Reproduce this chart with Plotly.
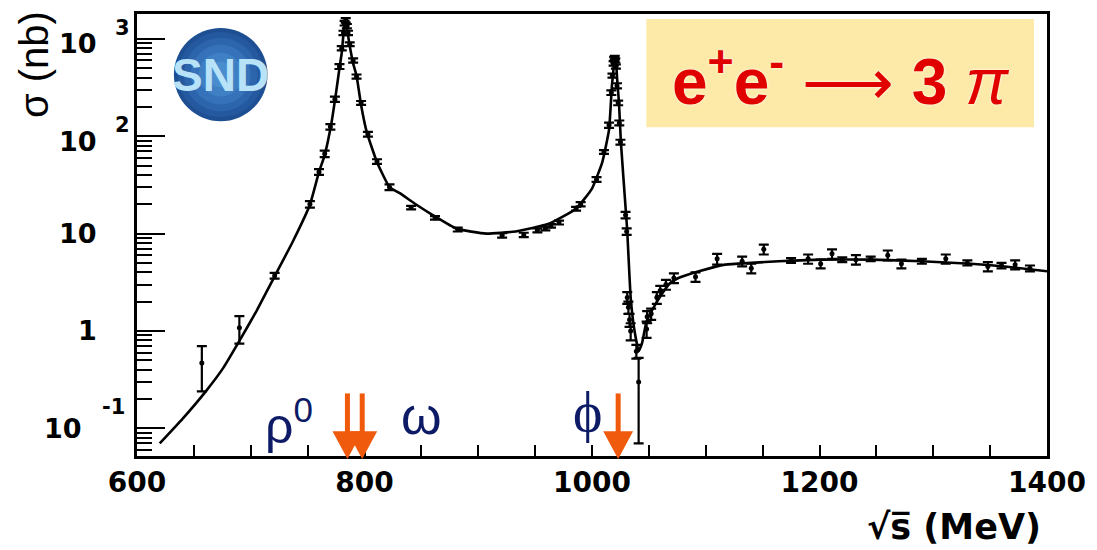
import math
import plotly.graph_objects as go

# ---------------- data ----------------
# fitted curve
curve_E = [620, 640, 661, 676, 690, 705, 721, 737, 752, 760, 765, 771, 775, 778, 780, 782, 783,
           784, 786, 787, 790, 793, 797, 802, 811, 822, 831, 845, 860, 881, 907, 933, 962, 986,
           1000, 1009, 1015, 1017.5, 1019, 1020, 1021, 1022, 1023.7, 1025.4, 1030, 1031,
           1034, 1037, 1041, 1044, 1048, 1056, 1065, 1070, 1076, 1094, 1117, 1140, 1164,
           1202, 1246, 1290, 1333, 1363, 1400]
curve_sigma = [0.070, 0.125, 0.244, 0.42, 0.79, 1.6, 3.64, 8.3, 19.8, 43, 64, 138, 280, 500, 720,
               1300, 1550, 1450, 1000, 850, 560, 417, 209, 110, 54, 30, 26, 20, 15.5, 11.2, 10,
               10.5, 12.6, 18, 29, 54, 117, 330, 500, 650, 620, 400, 222, 87, 15.5, 10.5,
               2.2, 1.07, 0.62, 0.75, 1.26, 1.9, 2.75, 3.2, 3.5, 4.1, 4.8, 5.0, 5.2,
               5.4, 5.4, 5.2, 4.9, 4.6, 4.1]

# measured points
data_E = [657, 690, 721, 752, 760, 765, 770, 774, 778, 780, 781.5, 782.5, 783.5, 784.5, 785.5,
          787, 790, 793, 797, 803, 811, 822,
          841, 862, 882, 921, 940, 952, 959, 964, 971, 986, 990, 1004, 1010.5,
          1015, 1017, 1018, 1019, 1019.5, 1020, 1020.5, 1021, 1022, 1023, 1024, 1025,
          1029.5, 1030.5, 1031, 1032, 1033, 1034, 1039, 1041,
          1048, 1048.5, 1052, 1057, 1060, 1065, 1072, 1091, 1110, 1132, 1140, 1151,
          1175, 1190, 1201, 1211, 1220, 1232, 1245, 1260, 1272, 1290, 1311, 1330,
          1348, 1360, 1372, 1385]
data_sigma = [0.47, 1.08, 3.7, 20, 43, 66, 125, 240, 520, 800, 1150, 1450, 1550, 1350, 1150,
              880, 600, 410, 220, 105, 55, 30,
              18.5, 14.5, 11, 9.6, 9.7, 10.8, 11.3, 12, 13, 18, 20, 36, 69,
              130, 280, 420, 560, 620, 640, 600, 520, 330, 220, 137, 87,
              15.5, 10.5, 2.2, 1.75, 1.3, 1.0, 0.62, 0.30,
              1.05, 1.4, 1.5, 2.2, 2.6, 3.0, 3.5, 3.6, 5.5, 5.2, 4.4, 6.9,
              5.3, 5.5, 4.9, 6.2, 5.4, 5.4, 5.5, 6.0, 4.9, 5.2, 5.5, 5.0,
              4.6, 4.7, 4.8, 4.4]
data_err = [0.23, 0.34, 0.25, 1.5, 3, 5, 8, 15, 30, 40, 60, 80, 80, 70, 60,
            40, 30, 20, 10, 6, 3, 2,
            0.8, 0.6, 0.5, 0.5, 0.5, 0.5, 0.5, 0.5, 0.6, 0.8, 1, 2, 3,
            8, 15, 20, 30, 30, 30, 30, 25, 20, 12, 8, 5,
            1.2, 0.8, 0.3, 0.25, 0.2, 0.2, 0.1, 0.23,
            0.2, 0.2, 0.2, 0.3, 0.3, 0.35, 0.4, 0.4, 0.7, 0.6, 0.5, 0.8,
            0.3, 0.6, 0.5, 0.7, 0.3, 0.6, 0.3, 0.7, 0.5, 0.3, 0.6, 0.3,
            0.5, 0.3, 0.5, 0.3]

# axis ticks
x_major = [600, 800, 1000, 1200, 1400]
x_minor = [650, 700, 750, 850, 900, 950, 1050, 1100, 1150, 1250, 1300, 1350]
y_major = [0.1, 1, 10, 100, 1000]
y_base = ["10", "1", "10", "10", "10"]
y_exp = ["-1", "", "", "2", "3"]
y_minor = [k * 10.0 ** d for d in range(-2, 4) for k in range(2, 10)]

# resonances
res_names = ["ρ<sup>0</sup>", "ω", "ϕ"]
res_arrow_E = [785, 798, 1023]

# ---------------- geometry helpers (pixels -> paper) ----------------
L, R, T, B = 137, 1050, 11, 456
W, H = 1097, 550
X0, X1 = 600, 1400
MEV_PER_PX = (X1 - X0) / (R - L)


def px(x):
    return (x - L) / (R - L)


def py(y):
    return (B - y) / (B - T)


fig = go.Figure()

fig.add_trace(go.Scatter(
    x=curve_E, y=curve_sigma, mode="lines",
    line=dict(color="black", width=2.6, shape="spline", smoothing=0.4),
    hoverinfo="skip", showlegend=False))

fig.add_trace(go.Scatter(
    x=data_E, y=data_sigma, mode="markers",
    marker=dict(color="black", size=5, symbol="circle"),
    error_y=dict(type="data", array=data_err, visible=True, color="black",
                 thickness=2.2, width=5),
    showlegend=False))

fig.update_xaxes(
    range=[X0, X1], showline=True, linecolor="black", linewidth=2.5, mirror=True,
    tickmode="array", tickvals=x_major, ticktext=[str(v) for v in x_major],
    ticks="inside", ticklen=11, tickwidth=2, tickcolor="black",
    tickfont=dict(family="DejaVu Sans", size=28, color="black", weight="bold"),
    minor=dict(tickmode="array", tickvals=x_minor, ticks="inside", ticklen=11,
               tickwidth=2, tickcolor="black", showgrid=False),
    showgrid=False, zeroline=False)

fig.update_yaxes(
    type="log", range=[-1.284, 3.255], showline=True, linecolor="black", linewidth=2.5,
    mirror=True, tickmode="array", tickvals=y_major, showticklabels=False,
    ticks="inside", ticklen=28, tickwidth=2, tickcolor="black",
    minor=dict(tickmode="array", tickvals=y_minor, ticks="inside", ticklen=15,
               tickwidth=2, tickcolor="black", showgrid=False),
    showgrid=False, zeroline=False)

ann = []
# y tick labels as base + exponent (annotation y on a log axis is log10 of the value)
base_font = dict(family="DejaVu Sans", size=27, color="black", weight="bold")
exp_font = dict(family="DejaVu Sans", size=21, color="black", weight="bold")
for v, b, e in zip(y_major, y_base, y_exp):
    lv = math.log10(v)
    if e == "-1":
        ann.append(dict(x=px(84), y=lv, xref="paper", yref="y", text=b, showarrow=False,
                        xanchor="right", yanchor="middle", font=base_font, yshift=0))
        ann.append(dict(x=px(127), y=lv, xref="paper", yref="y", text=e, showarrow=False,
                        xanchor="right", yanchor="middle", font=exp_font, yshift=21))
    else:
        ann.append(dict(x=px(99), y=lv, xref="paper", yref="y", text=b, showarrow=False,
                        xanchor="right", yanchor="middle", font=base_font,
                        yshift=(-5 if e else 0)))
        if e:
            ann.append(dict(x=px(113), y=lv, xref="paper", yref="y", text=e, showarrow=False,
                            xanchor="left", yanchor="middle", font=exp_font, yshift=11))

# axis titles
ann.append(dict(x=px(33), y=py(62), xref="paper", yref="paper", text="σ (nb)",
                showarrow=False, textangle=-90, xanchor="center", yanchor="middle",
                font=dict(family="Liberation Sans", size=40, color="black")))
ann.append(dict(x=px(1046), y=py(527), xref="paper", yref="paper", text="√s̅ (MeV)",
                showarrow=False, xanchor="right", yanchor="middle",
                font=dict(family="DejaVu Sans", size=35, color="black", weight="bold")))

navy = "#0d1a66"
ann.append(dict(x=px(263), y=py(422), xref="paper", yref="paper", text=res_names[0],
                showarrow=False, xanchor="left", yanchor="middle",
                font=dict(family="Liberation Sans", size=50, color=navy)))
ann.append(dict(x=px(422), y=py(416), xref="paper", yref="paper", text=res_names[1],
                showarrow=False, xanchor="center", yanchor="middle",
                font=dict(family="Liberation Sans", size=52, color=navy)))
ann.append(dict(x=px(589), y=py(412), xref="paper", yref="paper", text=res_names[2],
                showarrow=False, xanchor="center", yanchor="middle",
                font=dict(family="Liberation Serif", size=56, color=navy)))

# title box text
ann.append(dict(x=px(843), y=py(74), xref="paper", yref="paper",
                text="<b>e<sup>+</sup>e<sup>-</sup></b> ⟶ <b>3</b> <i>π</i>",
                showarrow=False, xanchor="center", yanchor="middle",
                font=dict(family="Liberation Sans", size=64, color="#e00000",
                          shadow="0px 0px 3px #ffffff")))

# SND logo text
ann.append(dict(x=px(221), y=py(72), xref="paper", yref="paper", text="<b>SND</b>",
                showarrow=False, xanchor="center", yanchor="middle",
                font=dict(family="Liberation Sans", size=46, color="#b8e2f8")))

shapes = [
    dict(type="rect", xref="paper", yref="paper", x0=px(648), x1=px(1037), y0=py(125),
         y1=py(16), fillcolor="#fdeaa8", line=dict(width=0), layer="below"),
]
# logo sphere: concentric discs for a soft gradient
for r, c in [(47, "#1e4f93"), (43, "#25599f"), (37, "#2d65ad"), (30, "#3672b9"),
             (22, "#3f7fc3"), (13, "#4a8dcf")]:
    shapes.append(dict(type="circle", xref="paper", yref="paper",
                       x0=px(221 - r), x1=px(221 + r), y0=py(72 + r), y1=py(72 - r),
                       fillcolor=c, line=dict(width=0), layer="below"))

# resonance arrows (shaft + head), positioned at each arrow energy
orange = "#f05a0c"
half_head = 15 * MEV_PER_PX
for E in res_arrow_E:
    shapes.append(dict(type="line", xref="x", yref="paper", x0=E, x1=E,
                       y0=py(393), y1=py(436), line=dict(color=orange, width=5),
                       layer="above"))
    shapes.append(dict(type="path", xref="x", yref="paper",
                       path=f"M {E - half_head},{py(431)} L {E + half_head},{py(431)} "
                            f"L {E},{py(459)} Z",
                       fillcolor=orange, line=dict(width=0), layer="above"))

fig.update_layout(
    width=W, height=H,
    margin=dict(l=L, r=W - R, t=T, b=H - B),
    paper_bgcolor="white", plot_bgcolor="white",
    annotations=ann, shapes=shapes, showlegend=False)

fig.write_html("out.html")
